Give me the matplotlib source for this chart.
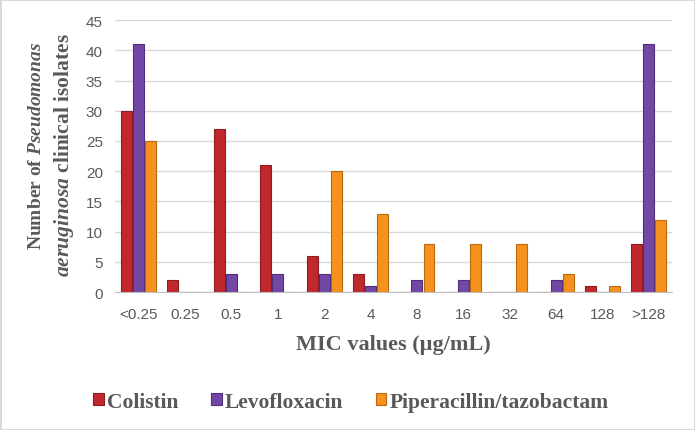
import matplotlib
matplotlib.use("Agg")
import matplotlib.pyplot as plt
import numpy as np
from matplotlib.pyplot import MultipleLocator

# categories and values
labels = ['<0.25', '0.25', '0.5', '1', '2', '4', '8', '16', '32', '64', '128', '>128']
colistin = [30, 2, 27, 21, 6, 3, 0, 0, 0, 0, 1, 8]
levofloxacin = [41, 0, 3, 3, 3, 1, 2, 2, 0, 2, 0, 41]
pip_taz = [25, 0, 0, 0, 20, 13, 8, 8, 8, 3, 1, 12]
series_names = ['Colistin', 'Levofloxacin', 'Piperacillin/tazobactam']

plt.rcParams['mathtext.fontset'] = 'custom'
plt.rcParams['mathtext.rm'] = 'Liberation Serif:bold'
plt.rcParams['mathtext.it'] = 'Liberation Serif:italic:bold'

grey = '#595959'
serif = 'Liberation Serif'

fig = plt.figure(figsize=(6.95, 4.31), dpi=100)
fig.patch.set_edgecolor('#D9D9D9')
fig.patch.set_linewidth(2)
ax = fig.add_axes([0.166, 0.32, 0.801, 0.631])

x = np.arange(len(labels))
step = 0.26
width = 0.235
ax.bar(x - step, colistin, width, label=series_names[0], color='#C0282D', edgecolor='#8E1C20', linewidth=0.8, zorder=3)
ax.bar(x, levofloxacin, width, label=series_names[1], color='#7347A6', edgecolor='#4F2E7A', linewidth=0.8, zorder=3)
ax.bar(x + step, pip_taz, width, label=series_names[2], color='#F5921E', edgecolor='#B86A10', linewidth=0.8, zorder=3)

ax.set_xlim(-0.5, len(labels) - 0.5)
ax.set_ylim(0, 45)
ax.yaxis.set_major_locator(MultipleLocator(5))
ax.grid(axis='y', color='#D9D9D9', linewidth=1, zorder=0)
for s in ['top', 'right', 'left']:
    ax.spines[s].set_visible(False)
ax.spines['bottom'].set_color('#BFBFBF')
ax.spines['bottom'].set_zorder(4)

ax.set_xticks(x)
ax.set_xticklabels(labels)
ax.tick_params(axis='both', length=0, labelsize=11, colors=grey)
ax.tick_params(axis='x', pad=11)
ax.tick_params(axis='y', pad=9)
for t in ax.get_xticklabels() + ax.get_yticklabels():
    t.set_family('Liberation Sans')

ax.set_xlabel('MIC values (µg/mL)', fontsize=16, fontweight='bold', family=serif, color=grey, labelpad=9)

# two-line y label with italic species name
fig.text(0.053, 0.662, r'Number of $\mathit{Pseudomonas}$', rotation=90, ha='center', va='center',
         fontsize=14, fontweight='bold', family=serif, color=grey)
fig.text(0.092, 0.64, r'$\mathit{aeruginosa}$ clinical isolates', rotation=90, ha='center', va='center',
         fontsize=15.5, fontweight='bold', family=serif, color=grey)

leg = fig.legend(loc='center', bbox_to_anchor=(0.505, 0.066), ncol=3, frameon=False,
                 handlelength=0.5, handleheight=0.5, handletextpad=0.15, columnspacing=1.5,
                 prop={'family': serif, 'weight': 'bold', 'size': 15.5})
for t in leg.get_texts():
    t.set_color(grey)

fig.savefig('out.png', dpi=100)
